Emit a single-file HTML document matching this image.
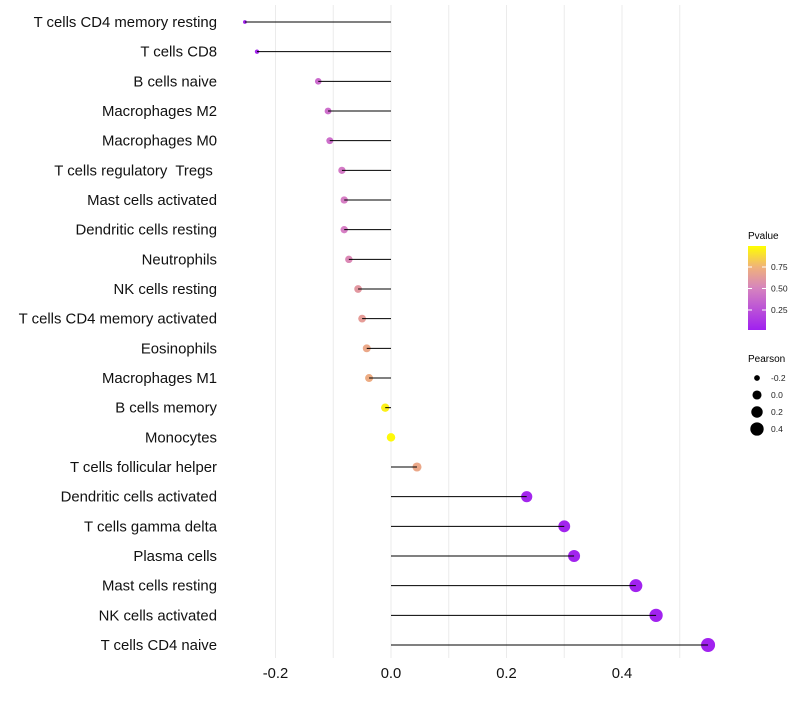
<!DOCTYPE html>
<html><head><meta charset="utf-8"><style>
body{margin:0;background:#fff;font-family:"Liberation Sans",sans-serif}
text{white-space:pre}
</style></head><body>
<svg id="chart" width="800" height="700" xmlns="http://www.w3.org/2000/svg">
<defs><linearGradient id="pg" x1="0" y1="1" x2="0" y2="0">
<stop offset="0" stop-color="#A020F0"/><stop offset="0.5" stop-color="#D684BE"/><stop offset="0.75" stop-color="#F0B27A"/><stop offset="1" stop-color="#FFFF00"/></linearGradient></defs>
<g id="grid"></g><g id="marks"></g><g id="ylab"></g><g id="xlab"></g>
<g id="legend">
<text x="748" y="239" font-size="10" fill="#000">Pvalue</text>
<rect x="748" y="246" width="18" height="84" fill="url(#pg)"/>
<g id="cbticks"></g>
<text x="748" y="362" font-size="10" fill="#000">Pearson</text>
<g id="sizeleg"></g>
</g>
</svg>
<script>
const categories=["T cells CD4 memory resting","T cells CD8","B cells naive","Macrophages M2","Macrophages M0","T cells regulatory  Tregs ","Mast cells activated","Dendritic cells resting","Neutrophils","NK cells resting","T cells CD4 memory activated","Eosinophils","Macrophages M1","B cells memory","Monocytes","T cells follicular helper","Dendritic cells activated","T cells gamma delta","Plasma cells","Mast cells resting","NK cells activated","T cells CD4 naive"];
const pearson=[-0.253,-0.232,-0.126,-0.109,-0.106,-0.085,-0.081,-0.081,-0.073,-0.057,-0.050,-0.042,-0.038,-0.010,0.0,0.045,0.235,0.300,0.317,0.424,0.459,0.549];
const pvalues=[0.02,0.03,0.40,0.42,0.42,0.48,0.50,0.50,0.55,0.62,0.65,0.70,0.72,0.95,0.98,0.70,0.03,0.02,0.02,0.01,0.01,0.01];
const xTicks=[-0.2,0.0,0.2,0.4];
const xTickLabels=["-0.2","0.0","0.2","0.4"];
const cbTicks=[0.25,0.5,0.75];
const sizeLegend=[-0.2,0.0,0.2,0.4];
const NS="http://www.w3.org/2000/svg";
const X=v=>391+v*577.5;
const Y=i=>22+i*29.667;
const R=v=>Math.sqrt(Math.max(3,18+v*57));
const CB=p=>331.5-p*86;
function lerp(a,b,t){return a.map((x,i)=>Math.round(x+(b[i]-x)*t));}
function col(p){const s=[[0,[160,32,240]],[0.5,[214,126,196]],[0.75,[240,178,122]],[1,[255,255,0]]];
for(let k=1;k<s.length;k++){if(p<=s[k][0]){const t=(p-s[k-1][0])/(s[k][0]-s[k-1][0]);const c=lerp(s[k-1][1],s[k][1],t);return `rgb(${c})`;}}return "rgb(255,255,0)";}
function mk(tag,at,parent){const e=document.createElementNS(NS,tag);for(const k in at)e.setAttribute(k,at[k]);parent.appendChild(e);return e;}
const grid=document.getElementById('grid'),marks=document.getElementById('marks'),ylab=document.getElementById('ylab'),xlab=document.getElementById('xlab');
for(let v=-0.2;v<=0.51;v+=0.1){const g=mk('line',{x1:X(v),x2:X(v),y1:5,y2:658,stroke:'#ebebeb','stroke-width':1},grid);

}
xTicks.forEach((v,i)=>{const t=mk('text',{x:X(v),y:678,'font-size':14.8,'text-anchor':'middle',fill:'#111'},xlab);t.textContent=xTickLabels[i];

});
categories.forEach((c,i)=>{
const t=mk('text',{x:217,y:Y(i)+5,'font-size':14.9,'text-anchor':'end',fill:'#111'},ylab);t.textContent=c;


const d=mk('circle',{cx:X(pearson[i]),cy:Y(i),r:R(pearson[i]),fill:col(pvalues[i])},marks);


const l=mk('line',{x1:X(0),x2:X(pearson[i]),y1:Y(i),y2:Y(i),stroke:'#000','stroke-width':1},marks);


});
const cbt=document.getElementById('cbticks');
cbTicks.forEach(p=>{mk('line',{x1:748,x2:752,y1:CB(p),y2:CB(p),stroke:'#fff'},cbt);mk('line',{x1:762,x2:766,y1:CB(p),y2:CB(p),stroke:'#fff'},cbt);
const t=mk('text',{x:771,y:CB(p)+3,'font-size':8.5,fill:'#222'},cbt);t.textContent=p.toFixed(2);

});
const sl=document.getElementById('sizeleg');
sizeLegend.forEach((v,i)=>{const y=378+i*17;const c=mk('circle',{cx:757,cy:y,r:R(v)+0.3,fill:'#000'},sl);


const t=mk('text',{x:771,y:y+3,'font-size':8.5,fill:'#222'},sl);t.textContent=v.toFixed(1);

});
</script>
</body></html>
